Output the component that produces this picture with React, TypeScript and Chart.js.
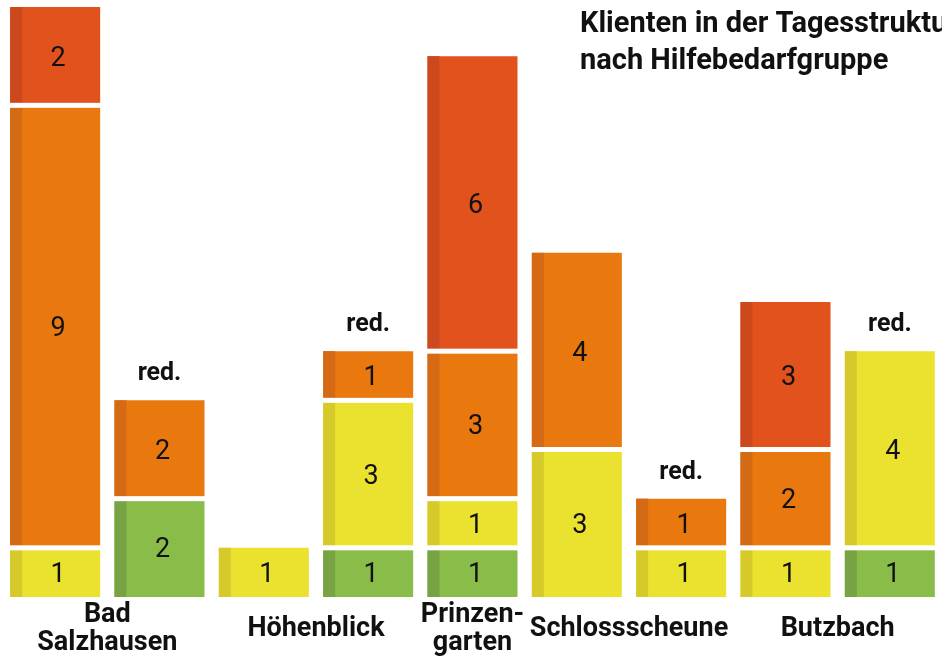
import React, { useEffect, useRef } from "react";
import { Chart, registerables } from "chart.js";

Chart.register(...registerables);

// ---- Data ----
const barNames = [
  "Bad Salzhausen",
  "Bad Salzhausen red.",
  "Höhenblick",
  "Höhenblick red.",
  "Prinzengarten",
  "Schlossscheune",
  "Schlossscheune red.",
  "Butzbach",
  "Butzbach red.",
];
const reducedFlags = [false, true, false, true, false, false, true, false, true];
const greenValues = [0, 2, 0, 1, 1, 0, 0, 0, 1];
const yellowValues = [1, 0, 1, 3, 1, 3, 1, 1, 4];
const orangeValues = [9, 2, 0, 1, 3, 4, 1, 2, 0];
const redValues = [2, 0, 0, 0, 6, 0, 0, 3, 0];
const seriesNames = ["Gruppe 1", "Gruppe 2", "Gruppe 3", "Gruppe 4"];
const groupLabels = [["Bad", "Salzhausen"], ["Höhenblick"], ["Prinzen-", "garten"], ["Schlossscheune"], ["Butzbach"]];
const groupBars = [[0, 1], [2, 3], [4], [5, 6], [7, 8]];
const titleLines = ["Klienten in der Tagesstruktur", "nach Hilfebedarfgruppe"];
const reducedLabel = "red.";

// ---- Styles ----
const fillColors = ["#8ABC4A", "#EBE230", "#E9780F", "#E2521D"];
const sideColors = ["#77A342", "#D6CA2B", "#D46A14", "#CC491D"];
const FONT = "Roboto, 'Noto Sans', sans-serif";
const TEXT = "#111111";
const SIDE_W = 12;
const GAP = 5;

const decorPlugin = {
  id: "decor",
  afterDatasetsDraw(chart: any) {
    const ctx = chart.ctx as CanvasRenderingContext2D;
    const yScale = chart.scales.y;
    const xScale = chart.scales.x;
    const zeroPx = yScale.getPixelForValue(0);
    ctx.save();

    const tops: number[] = new Array(barNames.length).fill(zeroPx);
    const segs: any[] = [];
    chart.data.datasets.forEach((ds: any, di: number) => {
      const meta = chart.getDatasetMeta(di);
      meta.data.forEach((el: any, i: number) => {
        const p = el.getProps(["x", "y", "base", "width"], true);
        if (Math.abs(p.base - p.y) < 1) return;
        segs.push({ ...p, di, i, v: ds.data[i] });
        tops[i] = Math.min(tops[i], p.y);
      });
    });

    // 3D side strips
    segs.forEach((s) => {
      const left = s.x - s.width / 2;
      ctx.fillStyle = sideColors[s.di];
      ctx.fillRect(left, Math.min(s.y, s.base), SIDE_W, Math.abs(s.base - s.y));
    });

    // white gaps between stacked segments
    ctx.fillStyle = "#ffffff";
    segs.forEach((s) => {
      if (Math.abs(s.base - zeroPx) > 1) {
        const left = s.x - s.width / 2;
        ctx.fillRect(left - 1, s.base - GAP / 2, s.width + 2, GAP);
      }
    });

    // values
    ctx.fillStyle = TEXT;
    ctx.textAlign = "center";
    ctx.textBaseline = "alphabetic";
    ctx.font = `400 27px ${FONT}`;
    segs.forEach((s) => {
      const cy = (s.y + s.base) / 2;
      ctx.fillText(String(s.v), s.x + 3, cy + 9.5);
    });

    // "red." labels
    ctx.font = `700 25px ${FONT}`;
    reducedFlags.forEach((f, i) => {
      if (!f) return;
      const x = xScale.getPixelForValue(i);
      ctx.fillText(reducedLabel, x, tops[i] - 20);
    });

    // group labels
    ctx.font = `700 27px ${FONT}`;
    groupLabels.forEach((lines, gi) => {
      const idx = groupBars[gi];
      const xs = idx.map((k) => xScale.getPixelForValue(k));
      const cx = xs.reduce((a, b) => a + b, 0) / xs.length;
      if (lines.length === 1) {
        ctx.fillText(lines[0], cx, 636);
      } else {
        lines.forEach((ln, li) => ctx.fillText(ln, cx, 622 + li * 28));
      }
    });

    // title
    ctx.textAlign = "left";
    ctx.font = `700 29px ${FONT}`;
    titleLines.forEach((ln, li) => ctx.fillText(ln, 580, 32 + li * 36.5));

    ctx.restore();
  },
};

export default function App() {
  const ref = useRef<HTMLCanvasElement | null>(null);

  useEffect(() => {
    if (!ref.current) return;
    const seriesValues = [greenValues, yellowValues, orangeValues, redValues];
    const chart = new Chart(ref.current, {
      type: "bar",
      data: {
        labels: barNames,
        datasets: seriesValues.map((vals, k) => ({
          label: seriesNames[k],
          data: vals,
          backgroundColor: fillColors[k],
          borderWidth: 0,
          barPercentage: 0.8626,
          categoryPercentage: 1,
        })),
      },
      options: {
        animation: false,
        responsive: false,
        layout: { padding: { left: 3, right: 0, top: 7, bottom: 61 } },
        plugins: {
          legend: { display: false },
          tooltip: { enabled: false },
          title: { display: false },
        },
        scales: {
          x: { stacked: true, display: false },
          y: { stacked: true, display: false, min: 0, max: 12 },
        },
      },
      plugins: [decorPlugin],
    });
    return () => chart.destroy();
  }, []);

  return (
    <div style={{ position: "fixed", left: 0, top: 0, width: 942, height: 658, background: "#fff" }}>
      <canvas ref={ref} width={942} height={658} style={{ width: 942, height: 658, display: "block" }} />
    </div>
  );
}
